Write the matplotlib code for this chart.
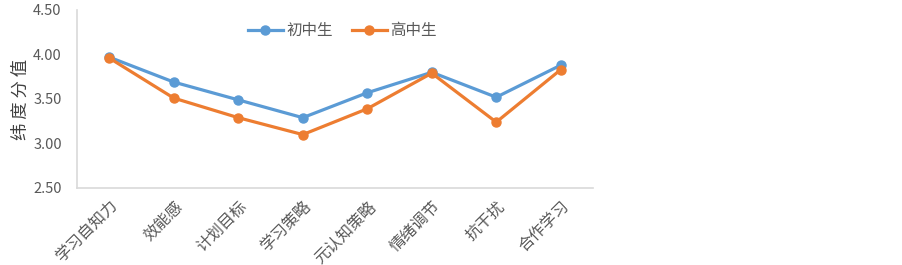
import matplotlib
matplotlib.use("Agg")
import matplotlib.pyplot as plt

plt.rcParams['font.family'] = ['Noto Sans CJK SC', 'DejaVu Sans']

categories = ["学习自知力", "效能感", "计划目标", "学习策略", "元认知策略", "情绪调节", "抗干扰", "合作学习"]
junior = [3.97, 3.69, 3.49, 3.29, 3.57, 3.80, 3.52, 3.88]
senior = [3.96, 3.51, 3.29, 3.10, 3.39, 3.79, 3.24, 3.83]
series_names = ["初中生", "高中生"]
yticks = [2.50, 3.00, 3.50, 4.00, 4.50]

fig = plt.figure(figsize=(9.03, 2.65), dpi=100)
ax = fig.add_axes([0.0853, 0.2906, 0.5714, 0.6717])

x = list(range(len(categories)))
ax.plot(x, junior, color="#5B9BD5", lw=2.3, marker="o", ms=6.5, label=series_names[0])
ax.plot(x, senior, color="#ED7D31", lw=2.3, marker="o", ms=6.5, label=series_names[1])

ax.set_xlim(-0.5, len(categories) - 0.5)
ax.set_ylim(2.5, 4.5)
ax.set_yticks(yticks)
ax.set_yticklabels([f"{v:.2f}" for v in yticks], color="#595959", fontsize=10.5)
ax.set_xticks(x)
ax.set_xticklabels(categories, rotation=45, ha="right", rotation_mode="anchor",
                   color="#595959", fontsize=11.5)
ax.tick_params(axis="y", length=0, pad=11)
ax.tick_params(axis="x", length=0, pad=7)

for s in ["top", "right"]:
    ax.spines[s].set_visible(False)
for s in ["left", "bottom"]:
    ax.spines[s].set_color("#D9D9D9")
    ax.spines[s].set_linewidth(1.2)

ax.set_ylabel("纬 度 分 值", fontsize=12.5, color="#404040", labelpad=2, fontweight="medium")

leg = ax.legend(loc="upper center", bbox_to_anchor=(0.514, 1.01), ncol=2, frameon=False,
                fontsize=11.2, handlelength=2.3, columnspacing=1.2, handletextpad=0.2)
for t in leg.get_texts():
    t.set_color("#595959")

fig.savefig("out.png", dpi=100)
